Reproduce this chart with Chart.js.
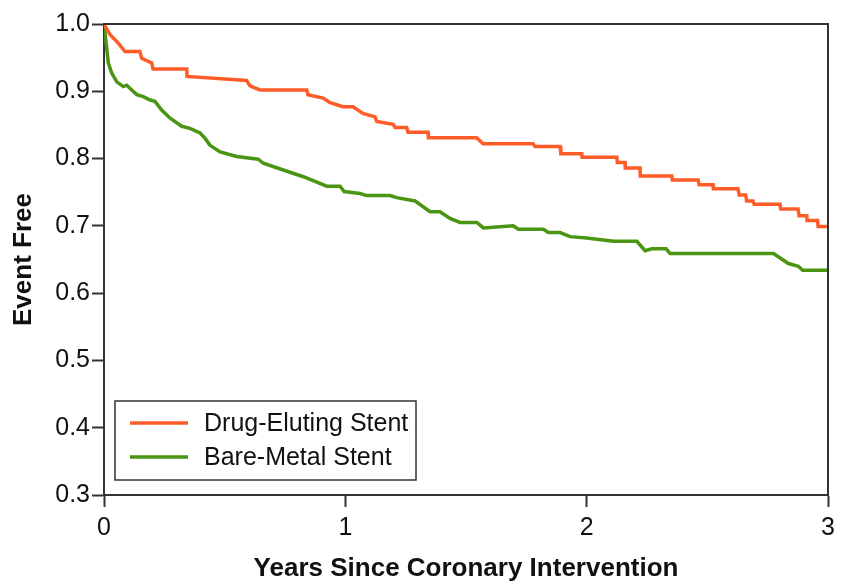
<!DOCTYPE html>
<html>
<head>
<meta charset="utf-8">
<script src="https://cdn.jsdelivr.net/npm/chart.js@4/dist/chart.umd.min.js"></script>
<style>
  html, body { margin: 0; padding: 0; background: #fff; }
  #wrap { width: 841px; height: 587px; }
</style>
</head>
<body>
<div id="wrap"><canvas id="kmChart"></canvas></div>
<script>
// --- Kaplan-Meier curves (years, event-free fraction) ---
const seriesLabels = ["Drug-Eluting Stent", "Bare-Metal Stent"];

const desTime = [0, 0.025, 0.053, 0.087, 0.149, 0.156, 0.198, 0.203, 0.343, 0.344, 0.591, 0.605, 0.646,
  0.840, 0.845, 0.908, 0.937, 0.990, 1.032, 1.073, 1.123, 1.130, 1.198, 1.206, 1.254, 1.260, 1.343, 1.344,
  1.544, 1.571, 1.778, 1.786, 1.890, 1.893, 1.980, 1.981, 2.125, 2.127, 2.159, 2.160, 2.221, 2.222, 2.353,
  2.355, 2.462, 2.466, 2.524, 2.525, 2.627, 2.632, 2.659, 2.663, 2.689, 2.694, 2.801, 2.804, 2.876, 2.880,
  2.912, 2.913, 2.957, 2.959, 3.0];
const desSurv = [1.0, 0.984, 0.974, 0.959, 0.959, 0.949, 0.942, 0.933, 0.933, 0.922, 0.916, 0.908, 0.902,
  0.902, 0.895, 0.890, 0.883, 0.877, 0.877, 0.867, 0.862, 0.855, 0.851, 0.846, 0.846, 0.839, 0.839, 0.831,
  0.831, 0.822, 0.822, 0.818, 0.818, 0.807, 0.807, 0.802, 0.802, 0.794, 0.794, 0.786, 0.786, 0.774, 0.774,
  0.768, 0.768, 0.761, 0.761, 0.755, 0.755, 0.746, 0.746, 0.737, 0.737, 0.732, 0.732, 0.725, 0.725, 0.715,
  0.715, 0.708, 0.708, 0.699, 0.699];

const bmsTime = [0, 0.018, 0.032, 0.053, 0.080, 0.094, 0.115, 0.136, 0.163, 0.191, 0.211, 0.239, 0.274,
  0.322, 0.356, 0.398, 0.419, 0.439, 0.481, 0.550, 0.639, 0.660, 0.743, 0.826, 0.923, 0.978, 0.995, 1.061,
  1.089, 1.185, 1.213, 1.289, 1.351, 1.392, 1.434, 1.475, 1.545, 1.572, 1.696, 1.717, 1.821, 1.841, 1.890,
  1.931, 2.000, 2.111, 2.208, 2.242, 2.270, 2.329, 2.345, 2.774, 2.836, 2.877, 2.895, 3.0];
const bmsSurv = [1.0, 0.942, 0.927, 0.914, 0.907, 0.909, 0.902, 0.895, 0.892, 0.887, 0.885, 0.872, 0.860,
  0.848, 0.845, 0.838, 0.830, 0.820, 0.810, 0.803, 0.799, 0.793, 0.783, 0.773, 0.759, 0.759, 0.751, 0.748,
  0.745, 0.745, 0.742, 0.737, 0.721, 0.721, 0.711, 0.705, 0.705, 0.697, 0.700, 0.695, 0.695, 0.690, 0.690,
  0.684, 0.682, 0.677, 0.677, 0.663, 0.666, 0.666, 0.659, 0.659, 0.644, 0.640, 0.634, 0.634];

const xTicks = [0, 1, 2, 3];
const yTicks = [0.3, 0.4, 0.5, 0.6, 0.7, 0.8, 0.9, 1.0];

const FONT = "'Liberation Sans', Arial, Helvetica, sans-serif";
const AXIS_COLOR = "#333";

function toPoints(times, surv) {
  return times.map(function (t, i) { return { x: t, y: surv[i] }; });
}

// frame on top/right plus the legend box inside the lower-left corner
const framePlugin = {
  id: "frameAndLegend",
  afterDatasetsDraw: function (chart) {
    const ctx = chart.ctx;
    const a = chart.chartArea;
    ctx.save();
    ctx.strokeStyle = AXIS_COLOR;
    ctx.lineWidth = 2;
    ctx.beginPath();
    ctx.moveTo(a.left, a.top);
    ctx.lineTo(a.right, a.top);
    ctx.lineTo(a.right, a.bottom);
    ctx.stroke();

    // legend
    const bx = a.left + 11, by = a.bottom - 94, bw = 301, bh = 79;
    ctx.lineWidth = 1.5;
    ctx.strokeRect(bx, by, bw, bh);
    ctx.font = "25px " + FONT;
    ctx.textBaseline = "middle";
    ctx.fillStyle = "#111";
    chart.data.datasets.forEach(function (ds, i) {
      const ly = by + 22 + i * 34;
      ctx.strokeStyle = ds.borderColor;
      ctx.lineWidth = 3.5;
      ctx.beginPath();
      ctx.moveTo(bx + 15, ly);
      ctx.lineTo(bx + 73, ly);
      ctx.stroke();
      ctx.fillText(ds.label, bx + 89, ly + 1);
    });
    ctx.restore();
  }
};

new Chart(document.getElementById("kmChart"), {
  type: "line",
  data: {
    datasets: [
      {
        label: seriesLabels[0],
        data: toPoints(desTime, desSurv),
        borderColor: "rgb(255, 92, 40)",
        borderWidth: 3.5,
        pointRadius: 0,
        tension: 0,
        fill: false
      },
      {
        label: seriesLabels[1],
        data: toPoints(bmsTime, bmsSurv),
        borderColor: "rgb(74, 150, 18)",
        borderWidth: 3.5,
        pointRadius: 0,
        tension: 0,
        fill: false
      }
    ]
  },
  options: {
    responsive: true,
    maintainAspectRatio: false,
    animation: false,
    layout: { padding: { top: 24, right: 13, left: 0, bottom: 0 } },
    plugins: {
      legend: { display: false },
      tooltip: { enabled: false }
    },
    scales: {
      x: {
        type: "linear",
        min: 0,
        max: 3,
        afterBuildTicks: function (scale) {
          scale.ticks = xTicks.map(function (v) { return { value: v }; });
        },
        afterFit: function (scale) { scale.height = 92; },
        ticks: {
          font: { family: FONT, size: 25 },
          color: "#111",
          padding: 6,
          maxRotation: 0,
          callback: function (v) { return String(v); }
        },
        grid: { drawOnChartArea: false, tickLength: 12, tickWidth: 2, tickColor: AXIS_COLOR },
        border: { display: true, color: AXIS_COLOR, width: 2 },
        title: {
          display: true,
          text: "Years Since Coronary Intervention",
          font: { family: FONT, size: 26, weight: "bold" },
          color: "#111",
          padding: { top: 0, bottom: 3 }
        }
      },
      y: {
        type: "linear",
        min: 0.3,
        max: 1.0,
        afterBuildTicks: function (scale) {
          scale.ticks = yTicks.map(function (v) { return { value: v }; });
        },
        afterFit: function (scale) { scale.width = 104; },
        ticks: {
          font: { family: FONT, size: 25 },
          color: "#111",
          padding: 2,
          callback: function (v) { return Number(v).toFixed(1); }
        },
        grid: { drawOnChartArea: false, tickLength: 12, tickWidth: 2, tickColor: AXIS_COLOR },
        border: { display: true, color: AXIS_COLOR, width: 2 },
        title: {
          display: true,
          text: "Event Free",
          font: { family: FONT, size: 26, weight: "bold" },
          color: "#111",
          padding: { top: 8, bottom: 0 }
        }
      }
    }
  },
  plugins: [framePlugin]
});
</script>
</body>
</html>
